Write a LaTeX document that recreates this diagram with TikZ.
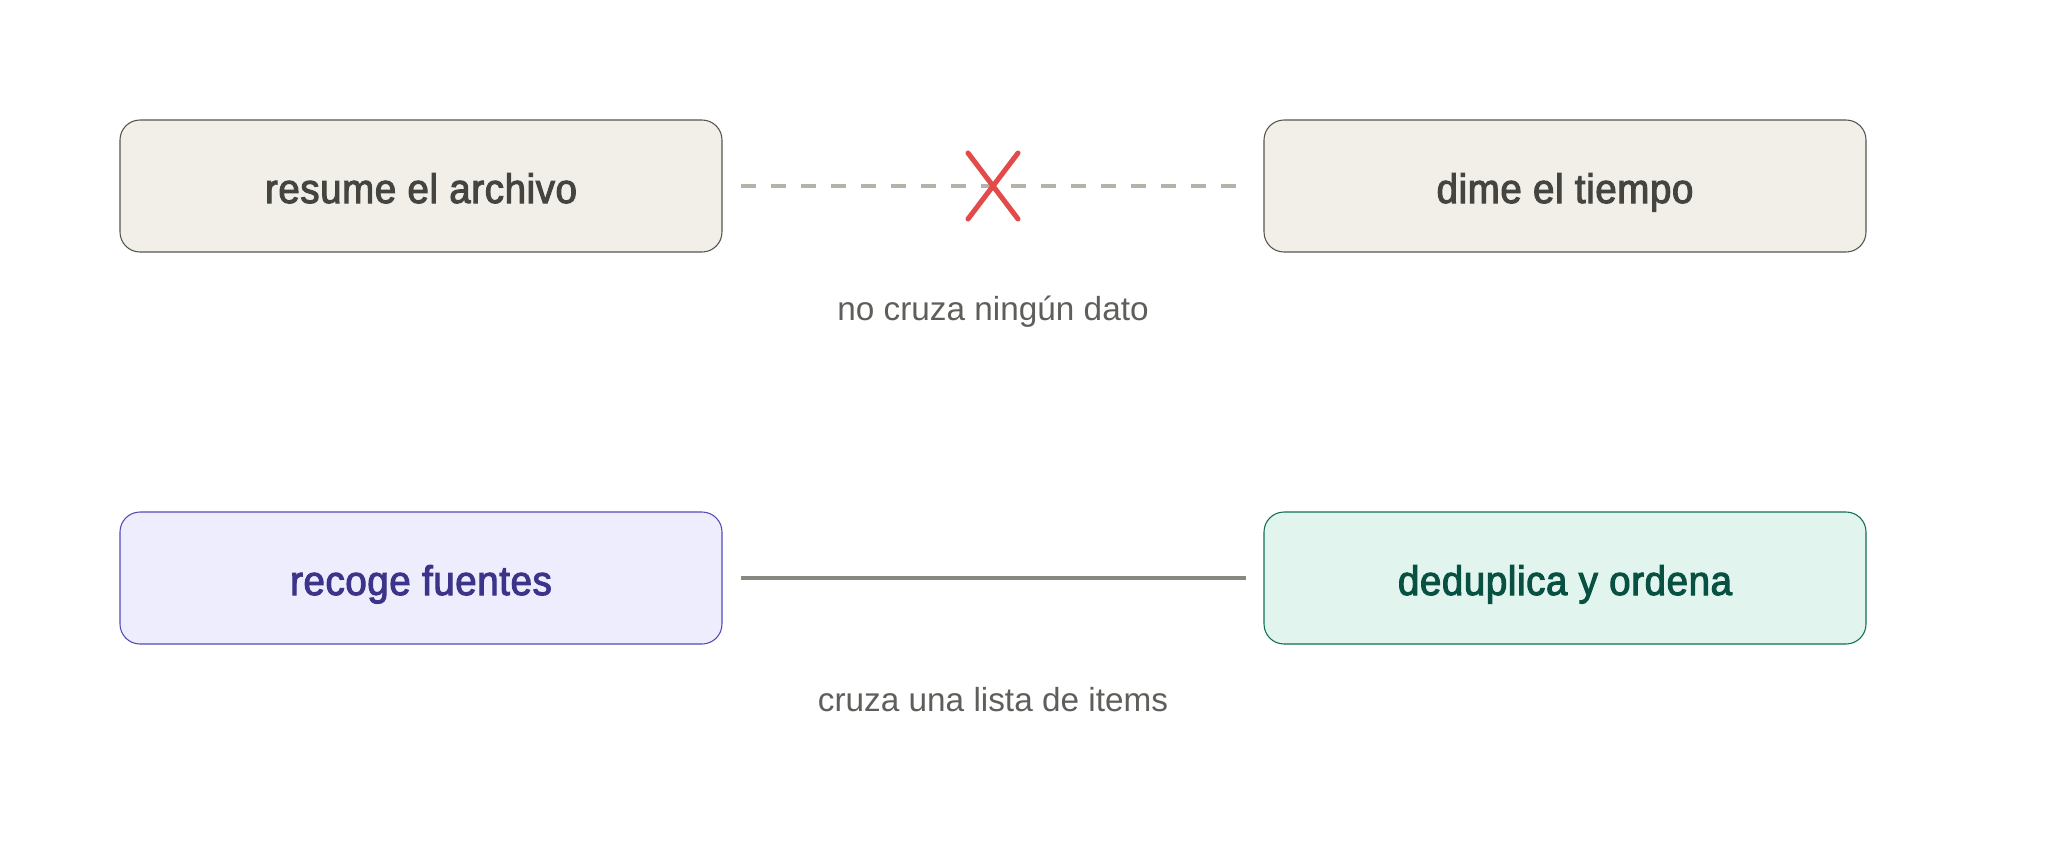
\documentclass[tikz,border=0pt]{standalone}
\usepackage{fontspec}
\setmainfont{Liberation Sans}
\newfontfamily\boxfont{Liberation Sans}[FakeStretch=0.93, FakeBold=2.5, LetterSpace=1.5]
\definecolor{stonefill}{HTML}{F1EFE8}
\definecolor{stoneline}{HTML}{55544F}
\definecolor{stonetext}{HTML}{444441}
\definecolor{purplefill}{HTML}{EEEDFE}
\definecolor{purpleline}{HTML}{534AB7}
\definecolor{purpletext}{HTML}{3C3489}
\definecolor{tealfill}{HTML}{E1F5EE}
\definecolor{tealline}{HTML}{0F6E56}
\definecolor{tealtext}{HTML}{085041}
\definecolor{linkgray}{HTML}{888780}
\definecolor{dashgray}{HTML}{B4B2A9}
\definecolor{crossred}{HTML}{E24B4A}
\definecolor{captext}{HTML}{5F5E5A}
\usetikzlibrary{calc}

\begin{document}
\begin{tikzpicture}[x=0.75pt, y=-0.75pt,
    box/.style={draw, rounded corners=15pt, minimum width=451.5pt, minimum height=99pt,
        line width=0.8pt, text height=28pt, text depth=2.5pt,
        font=\boxfont\fontsize{31}{36}\selectfont},
    caption/.style={text=captext, text height=19pt, text depth=5.5pt,
        font=\fontsize{25}{30}\selectfont}]
    \useasboundingbox (0,0) rectangle (2047,843);

    % Top row: no data crosses
    \node[box, fill=stonefill, draw=stoneline, text=stonetext] (rsm) at (421,186) {resume el archivo};
    \node[box, fill=stonefill, draw=stoneline, text=stonetext] (tmp) at (1565,186) {dime el tiempo};
    \draw[dashgray, line width=2.6pt, dash pattern=on 11.25pt off 11.25pt, shorten <=14pt, shorten >=19.5pt] (rsm) -- (tmp);
    \coordinate (cross) at ($(rsm.east)!0.5!(tmp.west)$);
    \draw[crossred, line width=3.8pt, line cap=round] ($(cross)+(-25,-33)$) -- ($(cross)+(25,33)$)
        ($(cross)+(25,-33)$) -- ($(cross)+(-25,33)$);
    \node[caption] (nodata) at ($(cross)+(0,125)$) {no cruza ningún dato};

    % Bottom row: a list crosses
    \node[box, fill=purplefill, draw=purpleline, text=purpletext] (rcg) at (421,578) {recoge fuentes};
    \node[box, fill=tealfill, draw=tealline, text=tealtext] (ddp) at (1565,578) {deduplica y ordena};
    \draw[linkgray, line width=3pt, shorten <=13.5pt, shorten >=13pt] (rcg) -- (ddp);
    \coordinate (link) at ($(rcg.east)!0.5!(ddp.west)$);
    \node[caption] (items) at ($(link)+(0,124)$) {cruza una lista de items};
\end{tikzpicture}
\end{document}
